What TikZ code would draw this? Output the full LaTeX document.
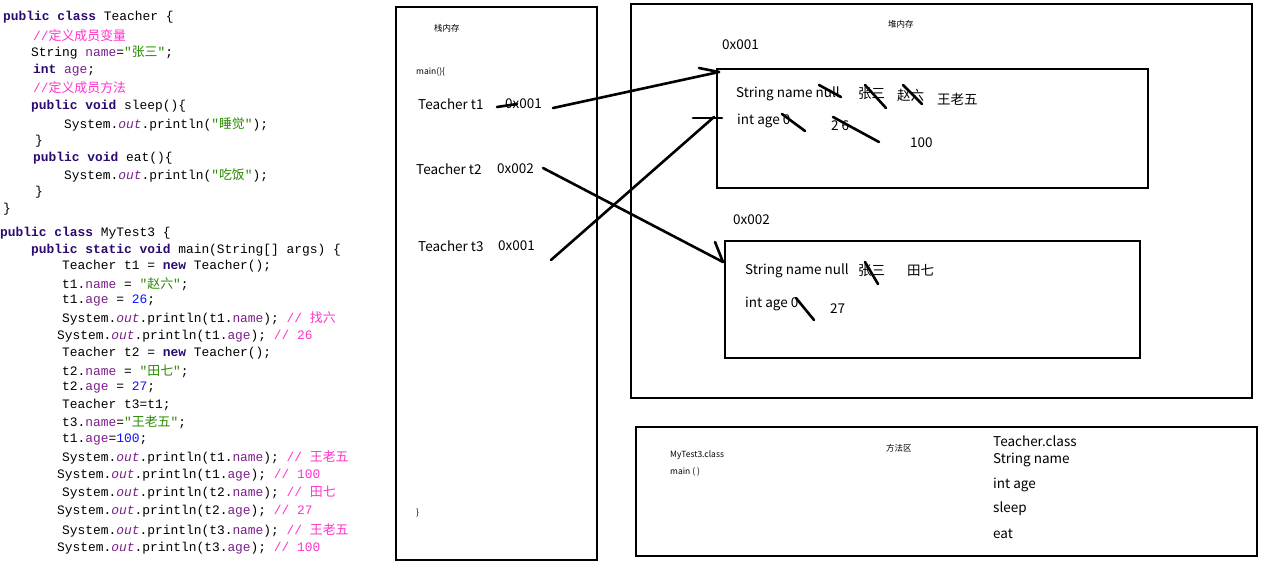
\documentclass[tikz,border=0pt]{standalone}
\usepackage{fontspec}
\setmainfont{Noto Sans}
\newfontfamily\cjk{Noto Sans CJK SC}
\newfontfamily\mono{Liberation Mono}
\definecolor{kwc}{HTML}{2A0A6E}
\definecolor{fdc}{HTML}{7A1F8A}
\definecolor{stc}{HTML}{2A8A00}
\definecolor{cmc}{HTML}{FF33CC}
\definecolor{nmc}{HTML}{1010FF}
\newcommand{\kw}[1]{{\bfseries\color{kwc}#1}}
\newcommand{\fd}[1]{{\color{fdc}#1}}
\newcommand{\st}[1]{{\color{stc}"{\cjk #1}"}}
\newcommand{\cm}[1]{{\color{cmc}#1}}
\newcommand{\nm}[1]{{\color{nmc}#1}}
\newcommand{\ot}{{\color{fdc}\itshape out}}
\begin{document}
\begin{tikzpicture}[x=1pt,y=-1pt,
  code/.style={anchor=west,inner sep=0pt,font=\mono\fontsize{12.9}{14}\selectfont},
  lbl/.style={anchor=west,inner sep=0pt,font=\cjk\fontsize{13.5}{15}\selectfont},
  sml/.style={anchor=west,inner sep=0pt,font=\cjk\fontsize{8.5}{10}\selectfont},
  box/.style={draw,line width=2.6pt},
  ink/.style={line width=2.6pt,line cap=round}]
\useasboundingbox (0,0) rectangle (1272,568);
% code
\node[code] (c1) at (3,17) {\kw{public class} Teacher \{};
\node[code] (c2) at (33,36) {\cm{//{\cjk 定义成员变量}}};
\node[code] (c3) at (31,53) {String \fd{name}=\st{张三};};
\node[code] (c4) at (33,70) {\kw{int} \fd{age};};
\node[code] (c5) at (33,88) {\cm{//{\cjk 定义成员方法}}};
\node[code] (c6) at (31,106) {\kw{public void} sleep()\{};
\node[code] (c7) at (64,124) {System.\ot.println(\st{睡觉});};
\node[code] (c8) at (35,141) {\}};
\node[code] (c9) at (33,158) {\kw{public void} eat()\{};
\node[code] (c10) at (64,175) {System.\ot.println(\st{吃饭});};
\node[code] (c11) at (35,192) {\}};
\node[code] (c12) at (3,209) {\}};
\node[code] (d1) at (0,233) {\kw{public class} MyTest3 \{};
\node[code] (d2) at (31,250) {\kw{public static void} main(String[] args) \{};
\node[code] (d3) at (62,266) {Teacher t1 = \kw{new} Teacher();};
\node[code] (d4) at (62,284) {t1.\fd{name} = \st{赵六};};
\node[code] (d5) at (62,301) {t1.\fd{age} = \nm{26};};
\node[code] (d6) at (62,318) {System.\ot.println(t1.\fd{name}); \cm{// {\cjk 找六}}};
\node[code] (d7) at (57,336) {System.\ot.println(t1.\fd{age}); \cm{// 26}};
\node[code] (d8) at (62,353) {Teacher t2 = \kw{new} Teacher();};
\node[code] (d9) at (62,371) {t2.\fd{name} = \st{田七};};
\node[code] (d10) at (62,388) {t2.\fd{age} = \nm{27};};
\node[code] (d11) at (62,405) {Teacher t3=t1;};
\node[code] (d12) at (62,422) {t3.\fd{name}=\st{王老五};};
\node[code] (d13) at (62,440) {t1.\fd{age}=\nm{100};};
\node[code] (d14) at (62,457) {System.\ot.println(t1.\fd{name}); \cm{// {\cjk 王老五}}};
\node[code] (d15) at (57,475) {System.\ot.println(t1.\fd{age}); \cm{// 100}};
\node[code] (d16) at (62,493) {System.\ot.println(t2.\fd{name}); \cm{// {\cjk 田七}}};
\node[code] (d17) at (57,511) {System.\ot.println(t2.\fd{age}); \cm{// 27}};
\node[code] (d18) at (62,530) {System.\ot.println(t3.\fd{name}); \cm{// {\cjk 王老五}}};
\node[code] (d19) at (57,548) {System.\ot.println(t3.\fd{age}); \cm{// 100}};
% boxes
\draw[box] (396,7) rectangle (597,560);
\draw[box] (631,4) rectangle (1252,398);
\draw[box] (717,69) rectangle (1148,188);
\draw[box] (725,241) rectangle (1140,358);
\draw[box] (636,427) rectangle (1257,556);
% stack
\node[sml] (s0) at (434,28) {栈内存};
\node[sml] (s1) at (416,72) {main()\{};
\node[sml] (s2) at (416,513) {\}};
\node[lbl] (t1) at (418,104) {Teacher t1};
\node[lbl] (a1) at (505,104) {0x001};
\node[lbl] (t2) at (416,169) {Teacher t2};
\node[lbl] (a2) at (497,169) {0x002};
\node[lbl] (t3) at (418,246) {Teacher t3};
\node[lbl] (a3) at (498,246) {0x001};
% heap
\node[sml] (h0) at (888,24) {堆内存};
\node[lbl] (h1) at (722,45) {0x001};
\node[lbl] (h2) at (733,220) {0x002};
\node[lbl] (o1) at (736,94) {String name null};
\node[lbl] (o2) at (858,94) {张三};
\node[lbl] (o3) at (897,95) {赵六};
\node[lbl] (o4) at (937,99) {王老五};
\node[lbl] (o5) at (737,121) {int age 0};
\node[lbl] (o6) at (831,126) {2 6};
\node[lbl] (o7) at (910,143) {100};
\node[lbl] (p1) at (745,271) {String name null};
\node[lbl] (p2) at (858,271) {张三};
\node[lbl] (p3) at (907,270) {田七};
\node[lbl] (p4) at (745,304) {int age 0};
\node[lbl] (p5) at (830,309) {27};
% strikes
\draw[ink] (819,85) -- (841,97);
\draw[ink] (865,85) -- (886,108);
\draw[ink] (903,85) -- (922,104);
\draw[ink] (782,114) -- (805,131);
\draw[ink] (833,117) -- (879,142);
\draw[ink] (865,262) -- (878,284);
\draw[ink] (796,298) -- (814,320);
\draw[ink] (497,107) -- (517,104);
% method area
\node[sml] (m0) at (886,448) {方法区};
\node[sml] (m1) at (670,455) {MyTest3.class};
\node[sml] (m2) at (670,472) {main ( )};
\node[lbl] (m3) at (993,441) {Teacher.class};
\node[lbl] (m4) at (993,460) {String name};
\node[lbl] (m5) at (993,485) {int age};
\node[lbl] (m6) at (993,509) {sleep};
\node[lbl] (m7) at (993,534) {eat};
% references
\coordinate (e1) at (719,72);
\coordinate (e2) at (714,117);
\coordinate (e3) at (723,262);
\draw[ink] (553,108) -- (e1);
\draw[ink] (699,68) -- (e1);
\draw[ink] (551,260) -- (e2);
\draw[ink] (693,118) -- (722,118);
\draw[ink] (543,168) -- (e3);
\draw[ink] (715,242) -- (e3);
\end{tikzpicture}
\end{document}
